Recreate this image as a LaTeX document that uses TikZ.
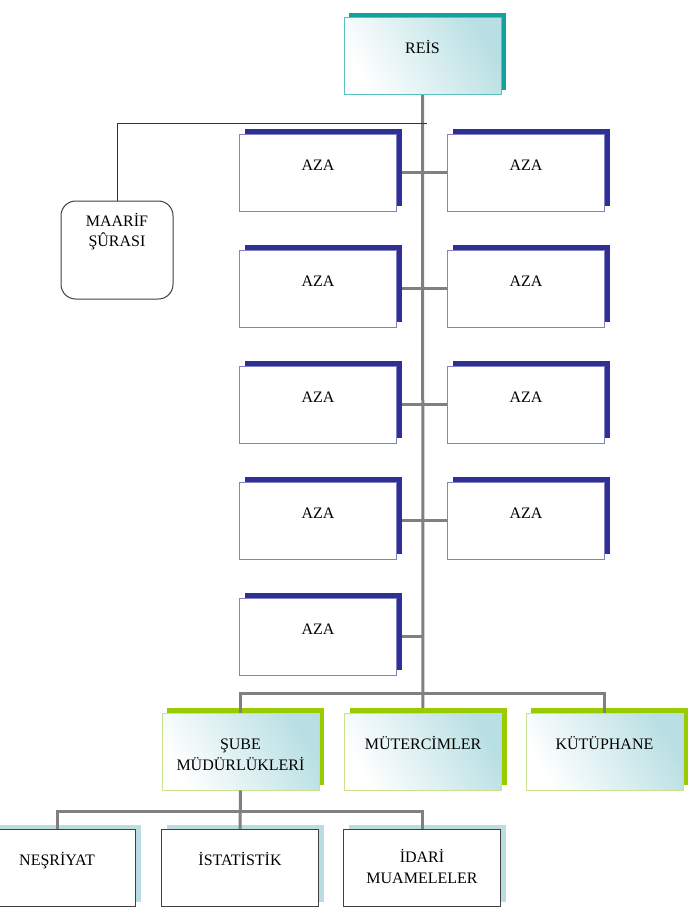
\documentclass[tikz,border=0pt]{standalone}
\usepackage{fontspec}
\setmainfont{Liberation Serif}
\usetikzlibrary{positioning,calc,backgrounds,shadows}
\definecolor{reisline}{HTML}{5BC1BE}
\definecolor{reisshadow}{HTML}{14A09B}
\definecolor{gradteal}{HTML}{B8DFE3}
\definecolor{azaline}{HTML}{8484C4}
\definecolor{azashadow}{HTML}{2E3192}
\definecolor{greenline}{HTML}{C9E291}
\definecolor{greenshadow}{HTML}{99CC00}
\definecolor{subline}{HTML}{404040}
\definecolor{subshadow}{HTML}{BADDE1}
\definecolor{linkgray}{HTML}{808080}

\begin{document}
\begin{tikzpicture}[
  x=0.75pt,y=-0.75pt,
  font=\fontsize{12}{15.5}\selectfont,
  box/.style={draw,align=center,minimum width=117.75pt,minimum height=57.75pt,
    inner sep=2pt,text height=9pt,text depth=12.75pt,line width=0.6pt},
  reisbox/.style={box,draw=reisline,left color=white,right color=gradteal,shading angle=120,
    drop shadow={shadow xshift=3.75pt,shadow yshift=3.75pt,fill=reisshadow,opacity=1}},
  azabox/.style={box,draw=azaline,fill=white,
    drop shadow={shadow xshift=3.75pt,shadow yshift=3.75pt,fill=azashadow,opacity=1}},
  greenbox/.style={box,draw=greenline,left color=white,right color=gradteal,shading angle=120,
    drop shadow={shadow xshift=3.75pt,shadow yshift=3.75pt,fill=greenshadow,opacity=1}},
  subbox/.style={box,draw=subline,fill=white,
    drop shadow={shadow xshift=3.75pt,shadow yshift=3.75pt,fill=subshadow,opacity=1}},
  councilbox/.style={draw=subline,rounded corners=11pt,fill=white,align=center,line width=0.75pt,
    minimum width=84pt,minimum height=73.5pt,text height=9pt,text depth=14pt},
  link/.style={line width=2.25pt,draw=linkgray},
  thinlink/.style={line width=0.75pt,draw=black!80}
]
  \useasboundingbox (0,0) rectangle (690,915);
  \clip (0,0) rectangle (690,915);

  \node[reisbox] (reis) at (422.5,56) {REİS};

  \node[azabox] (aza1) at (318,172.5) {AZA};
  \node[azabox] (aza2) at (526,172.5) {AZA};
  \node[azabox] (aza3) at (318,288.5) {AZA};
  \node[azabox] (aza4) at (526,288.5) {AZA};
  \node[azabox] (aza5) at (318,404.5) {AZA};
  \node[azabox] (aza6) at (526,404.5) {AZA};
  \node[azabox] (aza7) at (318,520.5) {AZA};
  \node[azabox] (aza8) at (526,520.5) {AZA};
  \node[azabox] (aza9) at (318,636.5) {AZA};

  \node[councilbox] (maarif) at (117,250) {MAARİF\\ŞÛRASI};

  \node[greenbox,text height=28pt,text depth=0pt] (sube) at (240.5,751.5) {ŞUBE\\MÜDÜRLÜKLERİ};
  \node[greenbox] (mutercim) at (423,751.5) {MÜTERCİMLER};
  \node[greenbox] (kutup) at (604.5,751.5) {KÜTÜPHANE};

  \node[subbox] (nesr) at (57,868) {NEŞRİYAT};
  \node[subbox] (istat) at (240,868) {İSTATİSTİK};
  \node[subbox,text height=22.5pt,text depth=0pt] (idari) at (422,868) {İDARİ\\MUAMELELER};

  \coordinate (bus) at (422,693);
  \coordinate (subbus) at (240,811);
  \coordinate (maarifend) at (427,123);

  \begin{scope}[on background layer]
    \draw[link] (reis.south) -- (mutercim.north);
    \draw[link] (aza1.east) -- (aza2.west);
    \draw[link] (aza3.east) -- (aza4.west);
    \draw[link] (aza5.east) -- (aza6.west);
    \draw[link] (aza7.east) -- (aza8.west);
    \draw[link] (aza9.east) -- (aza9.east -| reis.south);
  \end{scope}
  \draw[link] (sube.north) |- (bus) -| (kutup.north);
  \draw[link] (sube.south) -- (istat.north);
  \draw[link] (nesr.north) |- (subbus) -| (idari.north);
  \draw[thinlink] (maarif.north) |- (maarifend);
\end{tikzpicture}
\end{document}
